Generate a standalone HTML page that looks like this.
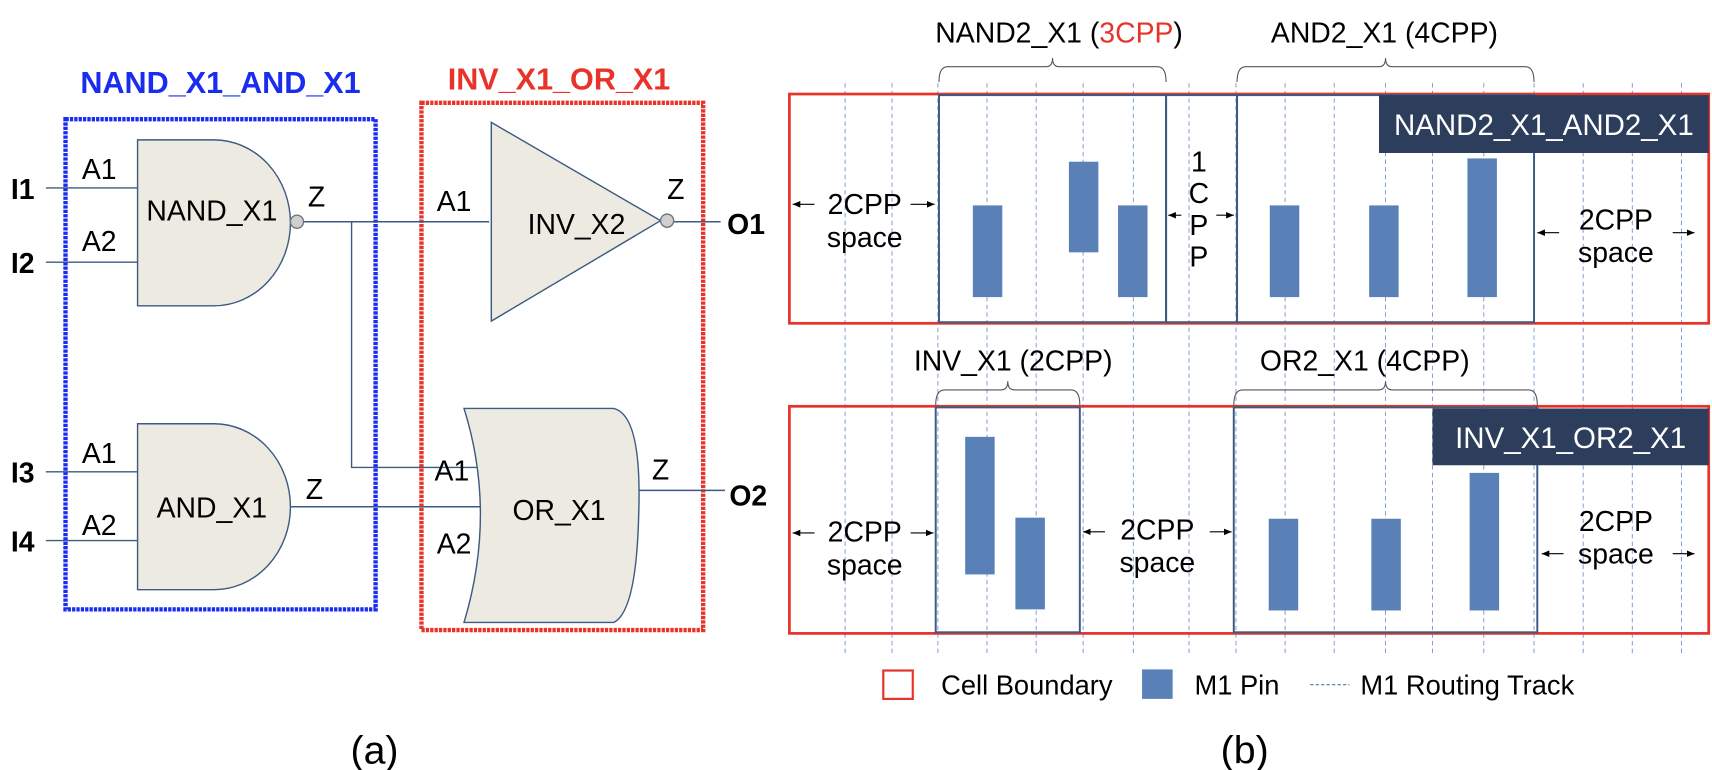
<!DOCTYPE html>
<html><head><meta charset="utf-8"><style>
html,body{margin:0;padding:0;background:#fff;}
svg{display:block;font-family:"Liberation Sans",Arial,sans-serif;}
</style></head><body>
<svg width="1712" height="770" viewBox="0 0 1568 705" xmlns="http://www.w3.org/2000/svg">
<defs>
<marker id="ar" markerWidth="8" markerHeight="8" refX="7" refY="4" orient="auto"><path d="M0,1 L7,4 L0,7 z" fill="#000"/></marker>
</defs>
<g id="panel-a" fill="none" stroke="#3d5a80" stroke-width="1.3">
  <text x="202" y="85" fill="#1a2cf0" stroke="none" font-size="28" font-weight="bold" text-anchor="middle">NAND_X1_AND_X1</text>
  <text x="512" y="82" fill="#e8332a" stroke="none" font-size="28" font-weight="bold" text-anchor="middle">INV_X1_OR_X1</text>
  <rect x="60" y="109" width="284" height="449" stroke="#1a2cf0" stroke-width="4" stroke-dasharray="3,1"/>
  <rect x="386" y="94" width="258" height="483" stroke="#e8332a" stroke-width="4" stroke-dasharray="3,1"/>
  <path d="M42,172 H127 M42,240 H126 M42,432 H126 M42,495 H128 M277,203 H448 M322,203 V428 H448 M265,464 H452 M617,203 H660 M585,449 H664"/>
  <path d="M126,128 H196 A70,76 0 0 1 196,280 H126 Z" fill="#edeae2"/>
  <circle cx="272" cy="203" r="6" fill="#cfcfcf" stroke="#777"/>
  <path d="M126,388 H196 A70,76 0 0 1 196,540 H126 Z" fill="#edeae2"/>
  <path d="M450,112 L605,202 L450,294 Z" fill="#edeae2"/>
  <circle cx="611" cy="202" r="6" fill="#cfcfcf" stroke="#777"/>
  <path d="M425,374 H562 Q588,380 585,470 Q583,560 562,570 H425 Q455,470 425,374 Z" fill="#edeae2"/>
  <g fill="#000" stroke="none" font-size="26">
    <text x="10" y="182" font-weight="bold">I1</text>
    <text x="10" y="250" font-weight="bold">I2</text>
    <text x="10" y="442" font-weight="bold">I3</text>
    <text x="10" y="505" font-weight="bold">I4</text>
    <text x="75" y="164">A1</text><text x="75" y="230">A2</text>
    <text x="75" y="424">A1</text><text x="75" y="490">A2</text>
    <text x="194" y="202" text-anchor="middle">NAND_X1</text>
    <text x="194" y="474" text-anchor="middle">AND_X1</text>
    <text x="282" y="189">Z</text><text x="280" y="457">Z</text>
    <text x="400" y="193">A1</text><text x="398" y="440">A1</text><text x="400" y="507">A2</text>
    <text x="528" y="214" text-anchor="middle">INV_X2</text>
    <text x="512" y="476" text-anchor="middle">OR_X1</text>
    <text x="611" y="182">Z</text><text x="597" y="439">Z</text>
    <text x="666" y="214" font-weight="bold">O1</text>
    <text x="668" y="463" font-weight="bold">O2</text>
  </g>
  <text x="343" y="699" fill="#000" stroke="none" font-size="36" text-anchor="middle">(a)</text>
</g>
<g id="panel-b"></g>
</svg>
<script>
const trackX = [774,817,859,904,949,992,1038,1089,1132,1177,1222,1269,1312,1359,1405,1450,1495,1540];
const rowTop = [86, 372];
const rowBottom = [296, 580];
const cellEdgesRow1 = [[860,1068],[1068,1133],[1133,1405]];
const cellEdgesRow2 = [[857,989],[1130,1408]];
const pinX1 = [891,979,1024,1163,1254,1344];
const pinTop1 = [188,148,188,188,188,145];
const pinBot1 = [272,231,272,272,272,272];
const pinX2 = [884,930,1162,1256,1346];
const pinTop2 = [400,474,475,475,433];
const pinBot2 = [526,558,559,559,559];
const NS = 'http://www.w3.org/2000/svg';
const g = document.getElementById('panel-b');
function mk(tag, attrs, parent){const e=document.createElementNS(NS,tag);for(const k in attrs)e.setAttribute(k,attrs[k]);(parent||g).appendChild(e);return e;}
trackX.forEach(x=>{
  const l=mk('line',{x1:x,y1:76,x2:x,y2:600,stroke:'#4a78c0','stroke-width':0.8,'stroke-dasharray':'4,3',opacity:0.8});
  
  
});
for(let r=0;r<2;r++){
  const b=mk('rect',{x:723,y:rowTop[r],width:842,height:rowBottom[r]-rowTop[r],fill:'none',stroke:'#e8332a','stroke-width':2.5});
  
  
}
function cells(list,r){list.forEach(c=>{
  const e=mk('rect',{x:c[0],y:rowTop[r]+1,width:c[1]-c[0],height:rowBottom[r]-rowTop[r]-2,fill:'none',stroke:'#3d5a80','stroke-width':1.8});
  
  
});}
cells(cellEdgesRow1,0);cells(cellEdgesRow2,1);
function pins(xs,ts,bs){xs.forEach((x,i)=>{
  const p=mk('rect',{x:x,y:ts[i],width:27,height:bs[i]-ts[i],fill:'#5a80b8'});
  
  
});}
pins(pinX1,pinTop1,pinBot1);pins(pinX2,pinTop2,pinBot2);
function lbox(x,y,w,h,t){
  const r=mk('rect',{x:x,y:y,width:w,height:h,fill:'#2c3e5c'});
  
  
  const tx=mk('text',{x:x+w/2,y:y+h/2+10,fill:'#fff','font-size':27,'text-anchor':'middle'});
  tx.textContent=t;
}
lbox(1263,87,302,53,'NAND2_X1_AND2_X1');
lbox(1312,374,253,52,'INV_X1_OR2_X1');
function txt(x,y,t,sz){const e=mk('text',{x:x,y:y,fill:'#000','font-size':sz||26,'text-anchor':'middle'});e.textContent=t;return e;}
function space(cx,y,a1,a2,ay){txt(cx,y,'2CPP');txt(cx,y+30,'space');
  mk('line',{x1:a1[1],y1:ay,x2:a1[0],y2:ay,stroke:'#000','stroke-width':1,'marker-end':'url(#ar)'});
  mk('line',{x1:a2[0],y1:ay,x2:a2[1],y2:ay,stroke:'#000','stroke-width':1,'marker-end':'url(#ar)'});}
space(792,196,[726,746],[834,856],187);
space(1480,210,[1408,1428],[1532,1552],213);
space(792,496,[726,746],[834,855],488);
space(1060,494,[992,1012],[1108,1128],487);
space(1480,486,[1412,1432],[1532,1552],507);
['1','C','P','P'].forEach((c,i)=>txt(1098,157+i*29,c));
mk('line',{x1:1082,y1:197,x2:1070,y2:197,stroke:'#000','marker-end':'url(#ar)'});
mk('line',{x1:1114,y1:197,x2:1130,y2:197,stroke:'#000','marker-end':'url(#ar)'});
function brace(x1,x2,y){const m=(x1+x2)/2;
  mk('path',{d:`M${x1},${y+14} Q${x1},${y} ${x1+8},${y} H${m-6} Q${m},${y} ${m},${y-8} Q${m},${y} ${m+6},${y} H${x2-8} Q${x2},${y} ${x2},${y+14}`,fill:'none',stroke:'#555','stroke-width':1});}
brace(860,1068,61);brace(1133,1405,61);brace(857,989,357);brace(1130,1408,357);
const t1=txt(970,39,'');t1.innerHTML='NAND2_X1 (<tspan fill="#e8332a">3CPP</tspan>)';
txt(1268,39,'AND2_X1 (4CPP)');
txt(928,339,'INV_X1 (2CPP)');
txt(1250,339,'OR2_X1 (4CPP)');
const lg=mk('rect',{x:809,y:614,width:27,height:26,fill:'none',stroke:'#e8332a','stroke-width':2});


const l1=txt(862,636,'Cell Boundary',25);l1.setAttribute('text-anchor','start');
const lp=mk('rect',{x:1046,y:613,width:28,height:27,fill:'#5a80b8'});


const l2=txt(1094,636,'M1 Pin',25);l2.setAttribute('text-anchor','start');
const lt=mk('line',{x1:1200,y1:627,x2:1236,y2:627,stroke:'#4a78c0','stroke-dasharray':'3,2'});


const l3=txt(1246,636,'M1 Routing Track',25);l3.setAttribute('text-anchor','start');
const lb=txt(1140,699,'(b)',36);


</script>
</body></html>
